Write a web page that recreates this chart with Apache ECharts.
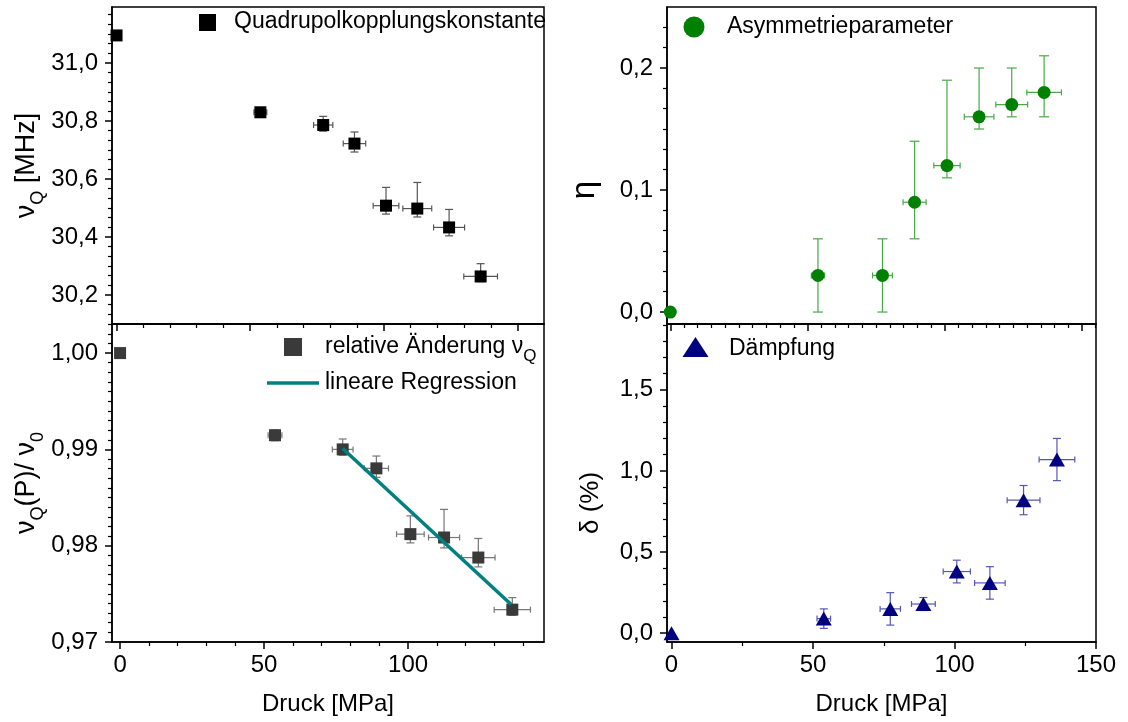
<!DOCTYPE html>
<html><head><meta charset="utf-8">
<script src="https://cdn.jsdelivr.net/npm/echarts@6/dist/echarts.min.js"></script>
<style>html,body{margin:0;padding:0;background:#fff}#c{width:1128px;height:722px}</style>
</head><body><div id="c"></div>
<script>
// ---------------- data ----------------
const pressure    = [0, 53.8, 77.3, 89.0, 100.8, 112.5, 124.4, 136.2];
const pressureErr = [0.3, 2.4, 3.6, 4.2, 4.8, 5.4, 5.8, 6.3];

const nuQ     = [31.095, 30.830, 30.786, 30.722, 30.508, 30.498, 30.433, 30.264];
const nuQLow  = [31.087, 30.821, 30.765, 30.693, 30.479, 30.469, 30.404, 30.246];
const nuQHigh = [31.103, 30.839, 30.816, 30.762, 30.571, 30.588, 30.495, 30.308];

const relChange = [1.0000, 0.99147, 0.9900, 0.98803, 0.98120, 0.98085, 0.97877, 0.97336];
const relLow    = [0.9997, 0.99090, 0.9894, 0.98710, 0.98029, 0.97977, 0.97780, 0.97277];
const relHigh   = [1.0003, 0.99202, 0.99108, 0.98931, 0.98310, 0.98377, 0.98075, 0.97461];

const regX = [77.3, 135.8];
const regY = [0.9901, 0.9739];

const eta     = [0.00, 0.03, 0.03, 0.09, 0.12, 0.16, 0.17, 0.18];
const etaLow  = [0.00, 0.00, 0.00, 0.06, 0.11, 0.15, 0.16, 0.16];
const etaHigh = [0.00, 0.06, 0.06, 0.14, 0.19, 0.20, 0.20, 0.21];

const delta     = [0.00, 0.09, 0.15, 0.18, 0.38, 0.31, 0.82, 1.07];
const deltaLow  = [0.00, 0.03, 0.05, 0.14, 0.31, 0.21, 0.73, 0.94];
const deltaHigh = [0.00, 0.15, 0.25, 0.22, 0.45, 0.41, 0.91, 1.20];

// tick labels
const xTicks = [0, 50, 100, 150];
const xTickLabels = ['0', '50', '100', '150'];
const nuQTicks = [30.2, 30.4, 30.6, 30.8, 31.0];
const nuQTickLabels = ['30,2', '30,4', '30,6', '30,8', '31,0'];
const relTicks = [0.97, 0.98, 0.99, 1.00];
const relTickLabels = ['0,97', '0,98', '0,99', '1,00'];
const etaTicks = [0.0, 0.1, 0.2];
const etaTickLabels = ['0,0', '0,1', '0,2'];
const deltaTicks = [0.0, 0.5, 1.0, 1.5];
const deltaTickLabels = ['0,0', '0,5', '1,0', '1,5'];

// ---------------- helpers ----------------
const FONT = '"Liberation Sans", Arial, sans-serif';
const TXT = '#000';
function steps(a, b, step, skip) {
  const out = []; const n = Math.round((b - a) / step);
  for (let i = 0; i <= n; i++) {
    const v = +(a + i * step).toFixed(6);
    if (!skip.some(s => Math.abs(s - v) < 1e-7)) out.push(v);
  }
  return out;
}
function lookup(ticks, labels) {
  return v => { const i = ticks.findIndex(t => Math.abs(t - v) < 1e-7); return i >= 0 ? labels[i] : ''; };
}
const G = [
  {left: 112, top: 7,   width: 432, height: 317},
  {left: 112, top: 324, width: 432, height: 318},
  {left: 667, top: 7,   width: 429, height: 317},
  {left: 667, top: 324, width: 429, height: 318}
];
const XR = [[-1.7, 159.9], [-2.8, 147.2], [-1.2, 155.1], [-1.6, 150]];
const YR = [[30.1, 31.193], [0.97, 1.00302], [-0.0098, 0.25], [-0.054, 1.905]];

function xMain(g, showLabels, name) {
  const [min, max] = XR[g];
  const vals = xTicks.filter(v => v >= min && v <= max);
  return {
    type: 'value', gridIndex: g, min, max, position: 'bottom',
    axisLine: {show: true, onZero: false, lineStyle: {color: '#000', width: 1.5}},
    axisTick: {show: true, inside: false, length: 7, customValues: vals, lineStyle: {color: '#000', width: 1.5}},
    axisLabel: {show: showLabels, customValues: vals, formatter: lookup(xTicks, xTickLabels), margin: 11,
      fontSize: 24, color: TXT, fontFamily: FONT},
    splitLine: {show: false},
    name: name || '', nameLocation: 'middle', nameGap: 50,
    nameTextStyle: {fontSize: 24, color: TXT, fontFamily: FONT}
  };
}
function xMinor(g, vals) {
  const [min, max] = XR[g];
  return {
    type: 'value', gridIndex: g, min, max, position: 'bottom',
    axisLine: {show: false, onZero: false},
    axisTick: {show: true, inside: false, length: 4, customValues: vals.filter(v => v > min && v < max), lineStyle: {color: '#000', width: 1.2}},
    axisLabel: {show: false}, splitLine: {show: false}
  };
}
function yMain(g, ticks, labels, name, nameGap, rich) {
  const [min, max] = YR[g];
  return {
    type: 'value', gridIndex: g, min, max, position: 'left',
    axisLine: {show: true, onZero: false, lineStyle: {color: '#000', width: 1.5}},
    axisTick: {show: true, inside: false, length: 7, customValues: ticks, lineStyle: {color: '#000', width: 1.5}},
    axisLabel: {show: true, customValues: ticks, formatter: lookup(ticks, labels), margin: 14,
      fontSize: 24, color: TXT, fontFamily: FONT},
    splitLine: {show: false},
    name, nameLocation: 'middle', nameGap, nameRotate: 90,
    nameTextStyle: {fontSize: 27, color: TXT, fontFamily: FONT, rich}
  };
}
function yMinor(g, vals) {
  const [min, max] = YR[g];
  return {
    type: 'value', gridIndex: g, min, max, position: 'left',
    axisLine: {show: false, onZero: false},
    axisTick: {show: true, inside: false, length: 4, customValues: vals.filter(v => v > min && v < max), lineStyle: {color: '#000', width: 1.2}},
    axisLabel: {show: false}, splitLine: {show: false}
  };
}
const subRich = {
  n: {fontSize: 27, lineHeight: 30, verticalAlign: 'top', fontFamily: FONT, color: TXT},
  s: {fontSize: 18, lineHeight: 18, padding: [16, 0, 0, 0], verticalAlign: 'top', fontFamily: FONT, color: TXT}
};

function errorBars(color, capW, capH) {
  return function (params, api) {
    const x = api.value(0), y = api.value(1), xe = api.value(2), ylo = api.value(3), yhi = api.value(4);
    const c = api.coord([x, y]);
    const style = {stroke: color, lineWidth: 1.2, fill: null};
    const ch = [];
    if (xe > 0) {
      const l = api.coord([x - xe, y]), r = api.coord([x + xe, y]);
      ch.push({type: 'line', shape: {x1: l[0], y1: c[1], x2: r[0], y2: c[1]}, style});
      ch.push({type: 'line', shape: {x1: l[0], y1: c[1] - capH, x2: l[0], y2: c[1] + capH}, style});
      ch.push({type: 'line', shape: {x1: r[0], y1: c[1] - capH, x2: r[0], y2: c[1] + capH}, style});
    }
    if (yhi > ylo) {
      const t = api.coord([x, yhi]), b = api.coord([x, ylo]);
      ch.push({type: 'line', shape: {x1: c[0], y1: t[1], x2: c[0], y2: b[1]}, style});
      ch.push({type: 'line', shape: {x1: c[0] - capW, y1: t[1], x2: c[0] + capW, y2: t[1]}, style});
      ch.push({type: 'line', shape: {x1: c[0] - capW, y1: b[1], x2: c[0] + capW, y2: b[1]}, style});
    }
    return {type: 'group', children: ch};
  };
}
function panelSeries(g, vals, lo, hi, errColor, symbol, size, color, capW) {
  const xi = g * 2, yi = g * 2;
  return [
    {type: 'custom', xAxisIndex: xi, yAxisIndex: yi, clip: false, z: 2,
      renderItem: errorBars(errColor, capW, 3),
      encode: {x: 0, y: 1},
      data: pressure.map((p, i) => [p, vals[i], pressureErr[i], lo[i], hi[i]])},
    {type: 'scatter', xAxisIndex: xi, yAxisIndex: yi, clip: false, z: 3,
      symbol, symbolSize: size, itemStyle: {color, opacity: 1},
      data: pressure.map((p, i) => [p, vals[i]])}
  ];
}

const option = {
  animation: false,
  backgroundColor: '#fff',
  grid: G.map(g => Object.assign({show: true, borderColor: '#000', borderWidth: 1.5, backgroundColor: 'transparent'}, g)),
  xAxis: [
    xMain(0, false), xMinor(0, steps(10, 150, 10, xTicks)),
    xMain(1, true, 'Druck [MPa]'), xMinor(1, steps(10, 140, 10, xTicks)),
    xMain(2, false), xMinor(2, steps(5, 155, 5, xTicks)),
    xMain(3, true, 'Druck [MPa]'), xMinor(3, steps(25, 125, 25, xTicks))
  ],
  yAxis: [
    yMain(0, nuQTicks, nuQTickLabels, '{n|ν}{s|Q}{n| [MHz]}', 64, subRich),
    yMinor(0, steps(30.2 - 0.2 / 3, 31.2 - 0.2 / 6, 0.2 / 6, nuQTicks)),
    yMain(1, relTicks, relTickLabels, '{n|ν}{s|Q}{n|(P)/ ν}{s|0}', 64, subRich),
    yMinor(1, steps(0.971, 1.003, 0.001, relTicks)),
    yMain(2, etaTicks, etaTickLabels, '', 68, {}),
    yMinor(2, steps(1 / 60, 0.25, 1 / 60, etaTicks)),
    yMain(3, deltaTicks, deltaTickLabels, '', 62, {}),
    yMinor(3, steps(0.1, 1.9, 0.1, deltaTicks))
  ],
  series: [
    ...panelSeries(0, nuQ, nuQLow, nuQHigh, '#555', 'rect', 12, '#000', 4),
    ...panelSeries(1, relChange, relLow, relHigh, '#777', 'rect', 12, '#3a3a3a', 4),
    {type: 'line', xAxisIndex: 2, yAxisIndex: 2, z: 4, symbol: 'none', clip: false,
      lineStyle: {color: '#008080', width: 3.5},
      data: regX.map((x, i) => [x, regY[i]])},
    ...panelSeries(2, eta, etaLow, etaHigh, '#4aa84a', 'circle', 13, '#008000', 5),
    ...panelSeries(3, delta, deltaLow, deltaHigh, '#5656b8', 'triangle', [16, 14], '#000080', 4)
  ],
  graphic: [
    // rotated axis titles of right panels
    {type: 'text', x: 585, y: 190, rotation: Math.PI / 2,
      style: {text: 'η', fontSize: 33, fontFamily: FONT, fill: TXT, align: 'center', verticalAlign: 'middle'}},
    {type: 'text', x: 591, y: 503, rotation: Math.PI / 2,
      style: {text: 'δ (%)', fontSize: 26, fontFamily: FONT, fill: TXT, align: 'center', verticalAlign: 'middle'}},

    // legends
    {type: 'rect', shape: {x: 199, y: 14, width: 17, height: 17}, style: {fill: '#000'}},
    {type: 'text', style: {x: 234, y: 22, text: 'Quadrupolkopplungskonstante', fontSize: 23, fontFamily: FONT, fill: TXT, verticalAlign: 'middle'}},

    {type: 'rect', shape: {x: 284, y: 338, width: 18, height: 18}, style: {fill: '#3a3a3a'}},
    {type: 'text', style: {x: 325, y: 335, text: '{n|relative Änderung ν}{s|Q}', verticalAlign: 'top',
      rich: {n: {fontSize: 23, lineHeight: 25, verticalAlign: 'top', fontFamily: FONT, fill: TXT},
             s: {fontSize: 17, lineHeight: 17, padding: [13, 0, 0, 0], verticalAlign: 'top', fontFamily: FONT, fill: TXT}}}},
    {type: 'line', shape: {x1: 267, y1: 383, x2: 319, y2: 383}, style: {stroke: '#008080', lineWidth: 3.5}},
    {type: 'text', style: {x: 325, y: 383, text: 'lineare Regression', fontSize: 23, fontFamily: FONT, fill: TXT, verticalAlign: 'middle'}},

    {type: 'circle', shape: {cx: 694, cy: 27, r: 10.5}, style: {fill: '#008000'}},
    {type: 'text', style: {x: 727, y: 27, text: 'Asymmetrieparameter', fontSize: 23, fontFamily: FONT, fill: TXT, verticalAlign: 'middle'}},

    {type: 'polygon', shape: {points: [[695.5, 337], [708.5, 357], [682.5, 357]]}, style: {fill: '#000080'}},
    {type: 'text', style: {x: 729, y: 349, text: 'Dämpfung', fontSize: 23, fontFamily: FONT, fill: TXT, verticalAlign: 'middle'}}
  ]
};
const chart = echarts.init(document.getElementById('c'));
chart.setOption(option);
</script>
</body></html>
